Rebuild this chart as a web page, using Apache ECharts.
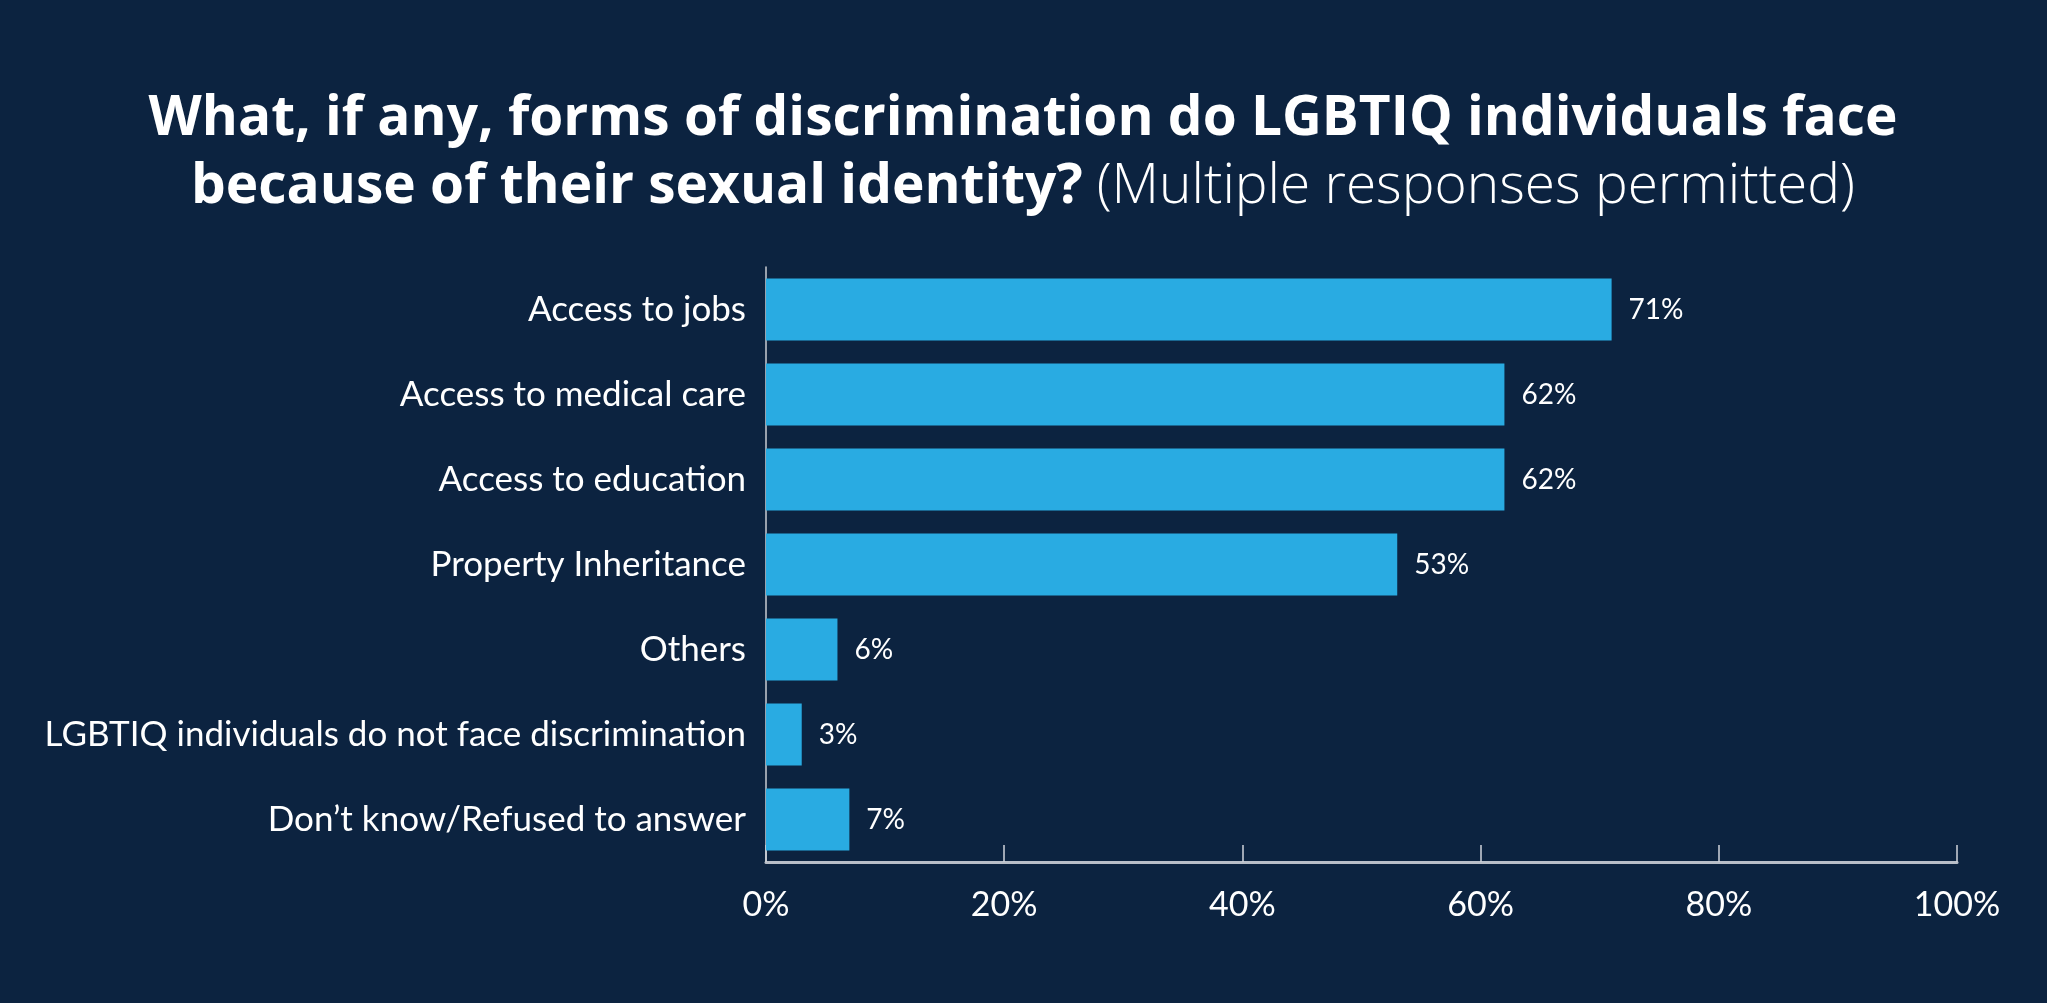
<!DOCTYPE html>
<html><head><meta charset="utf-8">
<script src="https://cdn.jsdelivr.net/npm/echarts@6/dist/echarts.min.js"></script>
<style>html,body{margin:0;padding:0;background:#0C2340;}#c{width:2047px;height:1003px;}</style>
</head><body><div id="c"></div>
<script>
const categories = ["Access to jobs","Access to medical care","Access to education","Property Inheritance","Others","LGBTIQ individuals do not face discrimination","Don’t know/Refused to answer"];
const values = [71, 62, 62, 53, 6, 3, 7];
const xTicks = [0, 20, 40, 60, 80, 100];
const titleLine1 = 'What, if any, forms of discrimination do LGBTIQ individuals face';
const titleLine2Bold = 'because of their sexual identity?';
const titleLine2Light = '(Multiple responses permitted)';

const richStyles = {
  b: { fontFamily: 'Open Sans', fontWeight: 'bold', fontSize: 55, fill: '#fff' },
  l: { fontFamily: 'Open Sans', fontWeight: 300, fontSize: 55, fill: '#fff' },
  s: { fontFamily: 'Open Sans', fontSize: 55, width: 14 }
};

const chart = echarts.init(document.getElementById('c'));
chart.setOption({
  backgroundColor: '#0C2340',
  textStyle: { fontFamily: 'Lato' },
  graphic: [{
    type: 'text', x: 1023, y: 119,
    style: { text: '{b|' + titleLine1 + '}', align: 'center', verticalAlign: 'middle', rich: richStyles }
  }, {
    type: 'text', x: 1023, y: 187,
    style: { text: '{b|' + titleLine2Bold + '}{s| }{l|' + titleLine2Light + '}', align: 'center', verticalAlign: 'middle', rich: richStyles }
  }],
  grid: { left: 766, right: 90, top: 267, bottom: 141, containLabel: false },
  xAxis: {
    type: 'value', min: 0, max: 100, interval: 20,
    axisLine: { show: true, lineStyle: { color: '#b8bec8', width: 3 } },
    axisTick: { show: true, inside: true, length: 17, lineStyle: { color: '#d0d4da', width: 1.5 } },
    splitLine: { show: false },
    axisLabel: { color: '#fff', fontSize: 34, margin: 26, formatter: v => xTicks.includes(v) ? v + '%' : '' }
  },
  yAxis: {
    type: 'category', inverse: true, data: categories,
    axisLine: { show: true, lineStyle: { color: '#c8ccd2', width: 1.5 } },
    axisTick: { show: false },
    axisLabel: { color: '#fff', fontSize: 35, margin: 20 }
  },
  series: [{
    type: 'bar', data: values, barWidth: 62,
    itemStyle: { color: '#29ABE2' },
    label: { show: true, position: 'right', distance: 17, color: '#fff', fontSize: 28, formatter: p => p.value + '%' }
  }]
});
</script></body></html>
